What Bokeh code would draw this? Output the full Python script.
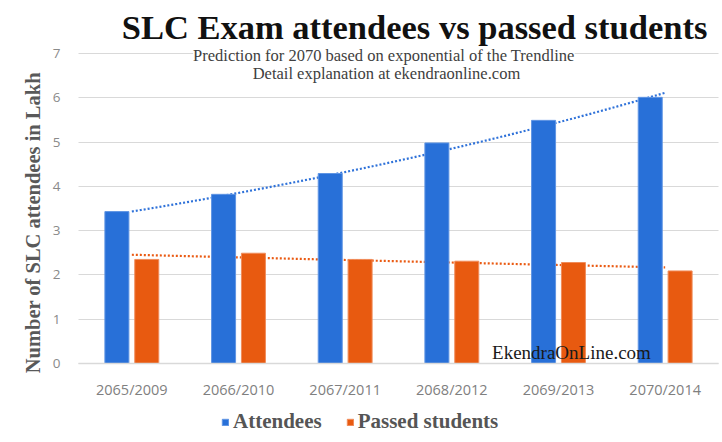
import numpy as np
from bokeh.plotting import figure
from bokeh.models import (ColumnDataSource, Label, Legend, LegendItem, FixedTicker,
                          Range1d)
from bokeh.transform import dodge
from bokeh.embed import file_html
from bokeh.resources import INLINE

# ---- data ----
categories = ["2065/2009", "2066/2010", "2067/2011", "2068/2012", "2069/2013", "2070/2014"]
attendees = [3.43, 3.82, 4.29, 4.98, 5.49, 6.01]
passed = [2.35, 2.49, 2.35, 2.31, 2.28, 2.09]
y_ticks = [0, 1, 2, 3, 4, 5, 6, 7]

title_text = "SLC Exam attendees vs passed students"
subtitle_1 = "Prediction for 2070 based on exponential of the Trendline"
subtitle_2 = "Detail explanation at ekendraonline.com"
y_title = "Number of SLC attendees in Lakh"
watermark = "EkendraOnLine.com"
series_names = ["Attendees", "Passed students"]

BLUE = "#2870d8"
ORANGE = "#e85a10"
SERIF = "Liberation Serif"

W, H = 722, 442
# plot region (categories 0.5..6.5 and values 0..7) inside the canvas
PX_X = 640 / 6.0        # pixels per category
PX_Y = 310 / 7.0        # pixels per unit
x0 = 0.5 - 78 / PX_X
x1 = 6.5 + (W - 718) / PX_X
y0 = -(H - 363) / PX_Y
y1 = 363 / PX_Y

xpos = list(range(1, len(categories) + 1))
src = ColumnDataSource(dict(x=xpos, att=attendees, pas=passed))

p = figure(width=W, height=H, output_backend="svg", toolbar_location=None,
           x_range=Range1d(x0, x1), y_range=Range1d(y0, y1),
           min_border=0)
p.outline_line_color = None
p.background_fill_color = "white"
p.border_fill_color = "white"

# grid lines only across the category span
p.xgrid.grid_line_color = None
p.ygrid.ticker = FixedTicker(ticks=y_ticks)
p.ygrid.grid_line_color = "#d9d9d9"
p.ygrid.grid_line_width = 1
if "cross_bounds" in p.ygrid[0].properties():
    p.ygrid.cross_bounds = (0.5, 6.5)
else:
    p.ygrid.grid_line_color = None
    p.segment(x0=[0.5] * len(y_ticks), x1=[6.5] * len(y_ticks), y0=y_ticks, y1=y_ticks,
              line_color="#d9d9d9", line_width=1)

# exponential trendlines (fit of the bar values)
xs = np.linspace(1, len(categories), 60)
def exp_trend(vals):
    b, a = np.polyfit(np.array(xpos, float), np.log(np.array(vals, float)), 1)
    return np.exp(a + b * xs)

p.line(xs, exp_trend(attendees), line_color="#2f72d9", line_width=2.2, line_dash="2 2")
p.line(xs, exp_trend(passed), line_color="#ea5a12", line_width=2.2, line_dash="2 2")

r_att = p.vbar(x=dodge("x", -0.14), top="att", width=0.225, source=src,
               fill_color=BLUE, line_color="#5f95e4", line_width=1)
r_pas = p.vbar(x=dodge("x", 0.14), top="pas", width=0.225, source=src,
               fill_color=ORANGE, line_color="#f08c5a", line_width=1)

# axes, fixed inside the frame
p.xaxis.fixed_location = 0
p.xaxis.bounds = (0.5, 6.5)
p.xaxis.ticker = FixedTicker(ticks=xpos)
p.xaxis.major_label_overrides = {i: c for i, c in zip(xpos, categories)}
p.xaxis.major_label_text_font = "Open Sans"
p.xaxis.major_label_text_font_size = "14.5px"
p.xaxis.major_label_text_color = "#7f7f7f"
p.xaxis.major_label_standoff = 10
p.xaxis.axis_line_color = "#d9d9d9"
p.xaxis.axis_line_width = 1.5
p.xaxis.major_tick_line_color = None
p.xaxis.minor_tick_line_color = None

p.yaxis.fixed_location = 0.5
p.yaxis.ticker = FixedTicker(ticks=y_ticks)
p.yaxis.major_label_text_font = "Open Sans"
p.yaxis.major_label_text_font_size = "13.5px"
p.yaxis.major_label_text_color = "#8a8a8a"
p.yaxis.major_label_standoff = 12
p.yaxis.axis_line_color = None
p.yaxis.major_tick_line_color = None
p.yaxis.minor_tick_line_color = None

# texts
p.add_layout(Label(x=3.65, y=(363 - 26) / PX_Y, text=title_text, text_font=SERIF,
                   text_font_style="bold", text_font_size="34.5px", text_color="#111111",
                   text_align="center", text_baseline="middle"))
p.add_layout(Label(x=3.363, y=6.954, text=subtitle_1, text_font=SERIF,
                   text_font_size="16.5px", text_color="#404040",
                   text_align="center", text_baseline="middle",
                   background_fill_color="white"))
p.add_layout(Label(x=3.387, y=6.548, text=subtitle_2, text_font=SERIF,
                   text_font_size="16.5px", text_color="#404040",
                   text_align="center", text_baseline="middle"))
p.add_layout(Label(x=0.069, y=3.18, text=y_title, text_font=SERIF,
                   text_font_style="bold", text_font_size="20.5px", text_color="#595959",
                   angle=np.pi / 2, text_align="center", text_baseline="middle"))
p.add_layout(Label(x=4.377, y=(363 - 352) / PX_Y, text=watermark, text_font=SERIF,
                   text_font_size="19px", text_color="#1a1a1a",
                   text_align="left", text_baseline="middle"))

legend = Legend(items=[LegendItem(label=series_names[0], renderers=[r_att]),
                       LegendItem(label=series_names[1], renderers=[r_pas])],
                location=(221, 8), orientation="horizontal",
                padding=0, margin=0, spacing=24, label_standoff=4,
                glyph_width=8, glyph_height=8, label_height=24,
                label_text_font=SERIF, label_text_font_style="bold",
                label_text_font_size="21px", label_text_color="#555555",
                border_line_color=None, background_fill_alpha=0)
p.add_layout(legend, "center")

open("out.html", "w").write(file_html(p, INLINE))
